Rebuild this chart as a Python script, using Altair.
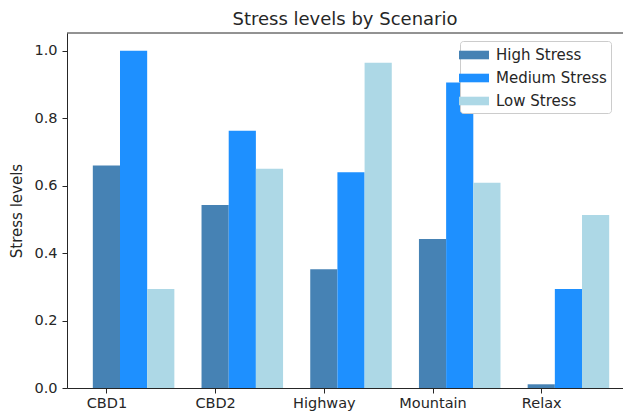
import altair as alt
import pandas as pd

categories = ["CBD1", "CBD2", "Highway", "Mountain", "Relax"]
series = ["High Stress", "Medium Stress", "Low Stress"]
colors = ["#4682b4", "#1e90ff", "#add8e6"]
high = [0.66, 0.543, 0.352, 0.442, 0.011]
medium = [1.0, 0.763, 0.640, 0.906, 0.294]
low = [0.294, 0.650, 0.965, 0.609, 0.513]

rows = []
for si, (name, vals) in enumerate(zip(series, [high, medium, low])):
    for ci, (cat, v) in enumerate(zip(categories, vals)):
        rows.append({"category": cat, "cidx": ci, "series": name, "sidx": si, "value": v})
df = pd.DataFrame(rows)

W, H = 556, 355
BAR = 0.25
font = "DejaVu Sans"
txt = "#262626"

label_expr = "[" + ",".join(f"'{c}'" for c in categories) + "][datum.value]"

bars = alt.Chart(df).transform_calculate(
    xc=f"datum.cidx + datum.sidx * {BAR}"
).transform_calculate(
    x0=f"datum.xc - {BAR/2}", x1=f"datum.xc + {BAR/2}"
).mark_bar().encode(
    x=alt.X("x0:Q", scale=alt.Scale(domain=[-0.3625, 4.752], nice=False, zero=False),
            axis=alt.Axis(values=list(range(len(categories))), labelExpr=label_expr,
                          title=None, grid=False, labelFontSize=14.5, labelColor=txt,
                          labelFont=font, tickSize=5, tickColor=txt, domainColor=txt,
                          labelPadding=3, labelFlush=False)),
    x2="x1:Q",
    y=alt.Y("value:Q", scale=alt.Scale(domain=[0, 1.053], nice=False),
            axis=alt.Axis(values=[0, 0.2, 0.4, 0.6, 0.8, 1.0], format=".1f",
                          title="Stress levels", titleFont=font, titleFontSize=15,
                          titleFontWeight="normal", titleColor=txt, titlePadding=9,
                          grid=False, labelFontSize=14.5, labelColor=txt, labelFont=font,
                          tickSize=5, tickColor=txt, domainColor=txt, labelPadding=5)),
    y2=alt.datum(0),
    color=alt.Color("series:N", scale=alt.Scale(domain=series, range=colors),
                    sort=series,
                    legend=alt.Legend(title=None, orient="none", legendX=393, legendY=8,
                                      symbolType="M-1.5,-0.43L1.5,-0.43L1.5,0.43L-1.5,0.43Z",
                                      symbolSize=400, symbolStrokeWidth=0, symbolOpacity=1,
                                      labelFont=font, labelFontSize=15, labelColor=txt,
                                      labelOffset=12, rowPadding=5,
                                      padding=4, strokeColor="#cccccc", fillColor="white",
                                      cornerRadius=3)),
)

top = alt.Chart(pd.DataFrame({"a": [0]})).mark_rule(color=txt, strokeWidth=1).encode(
    y=alt.value(0), x=alt.value(0), x2=alt.value(W)
)

chart = alt.layer(bars, top).properties(
    width=W, height=H,
    title=alt.TitleParams("Stress levels by Scenario", font=font, fontSize=18,
                          fontWeight="normal", color=txt, anchor="middle", offset=4),
    autosize=alt.AutoSizeParams(type="none"),
    padding={"left": 59, "top": 25, "right": 0, "bottom": 25},
).configure_view(stroke=None)

chart.save("out.html", embed_options={"renderer": "svg", "actions": False})
